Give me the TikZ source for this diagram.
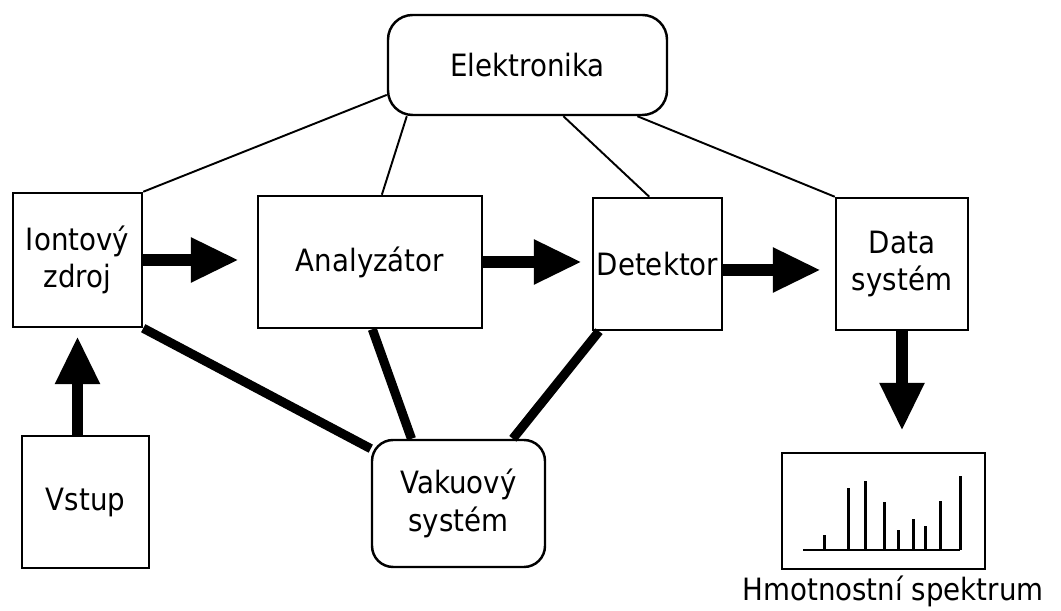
\documentclass[tikz,border=0pt]{standalone}
\usepackage{fontspec}
\setmainfont[FakeStretch=0.9]{DejaVu Sans}
\usepackage{tikz}
\usetikzlibrary{arrows.meta,calc}
\newcommand{\mspismo}{\fontsize{17.5}{21.5}\selectfont}
\tikzset{
  msblok/.style={draw=black, line width=1.4pt, fill=white, align=center,
                 font=\mspismo, inner sep=0pt},
  msblokzaobl/.style={msblok, rounded corners=14pt},
  msspoj/.style={draw=black, line width=1.1pt},
  msspojsilny/.style={draw=black, line width=5.2pt},
  mssipka/.style={-{Triangle[length=0.96cm, width=0.84cm]}, line width=6.6pt, draw=black},
  msstitek/.style={font=\mspismo, inner sep=0pt},
}

\begin{document}
\begin{tikzpicture}
    \useasboundingbox (0,0) rectangle (21.22,12.22);
    % bloky
    \node[msblokzaobl, minimum width=5.58cm, minimum height=2.0cm] (elek) at (10.55,10.92) {Elektronika};
    \node[msblok, minimum width=2.58cm, minimum height=2.68cm] (zdroj) at (1.55,7.02) {Iontový\\zdroj};
    \node[msblok, minimum width=4.48cm, minimum height=2.64cm] (analyz) at (7.40,6.98) {Analyzátor};
    \node[msblok, minimum width=2.58cm, minimum height=2.64cm] (detek) at (13.15,6.94) {Detektor};
    \node[msblok, minimum width=2.64cm, minimum height=2.64cm] (data) at (18.04,6.94) {Data\\systém};
    \node[msblok, minimum width=2.54cm, minimum height=2.64cm] (vstup) at (1.71,2.18) {Vstup};
    \node[msblokzaobl, minimum width=3.46cm, minimum height=2.54cm, rounded corners=12pt] (vakuum) at (9.17,2.15) {Vakuový\\systém};
    \node[msblok, minimum width=4.06cm, minimum height=2.32cm] (spek) at (17.67,2.0) {};
    \node[msstitek, anchor=base] (popis) at (17.86,0.2) {Hmotnostní spektrum};
    % spektrum
    \draw[line width=1.7pt] (16.06,1.22) -- (19.2,1.22);
    \foreach \x/\h in {16.48/1.52, 16.96/2.46, 17.30/2.60, 17.68/2.18, 17.96/1.62,
                       18.26/1.84, 18.50/1.70, 18.80/2.20, 19.20/2.70}
        \draw[line width=1.7pt] (\x,1.22) -- (\x,\h);
    % spoje k elektronice
    \draw[msspoj] (elek.192) -- (zdroj.north east);
    \draw[msspoj] (elek.203) -- (analyz.80);
    \draw[msspoj] (elek.-55) -- (detek.97);
    \draw[msspoj] (elek.-25) -- (data.north west);
    % spoje k vakuu
    \draw[msspojsilny] (zdroj.south east) -- (vakuum.148);
    \draw[msspojsilny] (analyz.-88) -- (vakuum.126);
    \draw[msspojsilny] (detek.229) -- (vakuum.50);
    % sipky
    \draw[mssipka, shorten >=0.36cm] (zdroj.east) -- (zdroj.east -| analyz.west);
    \draw[mssipka, shorten >=0.2cm] (analyz.east) -- (analyz.east -| detek.west);
    \draw[mssipka, shorten >=0.28cm] ([yshift=-0.12cm]detek.east) -- ([yshift=-0.12cm]data.west);
    \draw[mssipka, shorten >=0.16cm] (vstup.north -| zdroj.south) -- (zdroj.south);
    \draw[mssipka, shorten >=0.42cm] (data.south) -- (data.south |- spek.north);
\end{tikzpicture}
\end{document}
